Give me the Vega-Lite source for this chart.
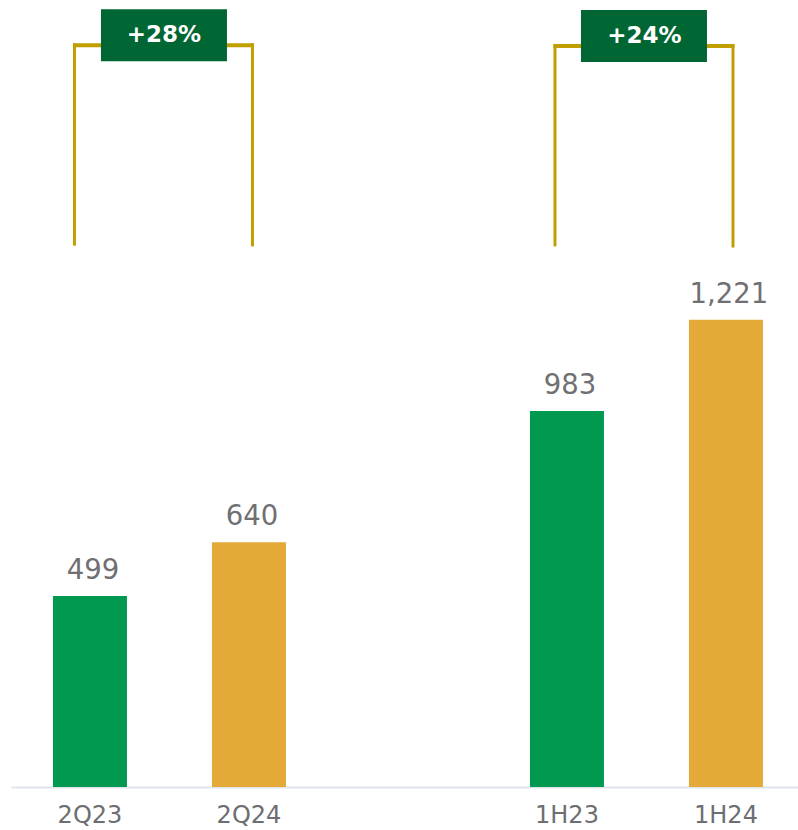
{
  "$schema": "https://vega.github.io/schema/vega-lite/v6.json",
  "width": 787,
  "height": 787,
  "autosize": {"type": "none"},
  "padding": {"left": 11, "top": 0, "right": 0, "bottom": 43},
  "background": "white",
  "config": {"view": {"stroke": null}, "font": "DejaVu Sans"},
  "datasets": {
    "bars": [
      {"period": "2Q23", "year": "2023", "value": 499},
      {"period": "2Q24", "year": "2024", "value": 640},
      {"period": "1H23", "year": "2023", "value": 983},
      {"period": "1H24", "year": "2024", "value": 1221}
    ],
    "brackets": [
      {"from": "2Q23", "to": "2Q24", "label": "+28%"},
      {"from": "1H23", "to": "1H24", "label": "+24%"}
    ]
  },
  "layer": [
    {
      "data": {"name": "bars"},
      "mark": {"type": "bar"},
      "encoding": {
        "x": {
          "field": "period",
          "type": "nominal",
          "sort": null,
          "scale": {"domain": ["2Q23", "2Q24", " ", "1H23", "1H24"], "paddingInner": 0.5346, "paddingOuter": 0.2421, "align": 0.545},
          "axis": {"title": null, "domainColor": "#dfe4eb", "domainWidth": 2, "ticks": false, "labelFontSize": 24, "labelColor": "#6d6e71", "labelPadding": 16, "labelAngle": 0, "labelFont": "DejaVu Sans"}
        },
        "y": {"field": "value", "type": "quantitative", "scale": {"domain": [0, 2057], "nice": false}, "axis": null},
        "color": {"field": "year", "type": "nominal", "scale": {"domain": ["2023", "2024"], "range": ["#00994f", "#e3aa38"]}, "legend": null}
      }
    },
    {
      "data": {"name": "bars"},
      "mark": {"type": "text", "baseline": "alphabetic", "dy": -17, "dx": 3, "fontSize": 27.5, "color": "#706f72", "font": "DejaVu Sans"},
      "encoding": {
        "x": {"field": "period", "type": "nominal"},
        "y": {"field": "value", "type": "quantitative"},
        "text": {"field": "value", "type": "quantitative", "format": ","}
      }
    },
    {
      "data": {"name": "brackets"},
      "transform": [{"filter": "datum.label == '+28%'"}],
      "layer": [
        {"mark": {"type": "rule", "color": "#c29f00", "strokeWidth": 3, "xOffset": -15.5}, "encoding": {"x": {"field": "from", "type": "nominal"}, "y": {"datum": 1415}, "y2": {"datum": 1944}}},
        {"mark": {"type": "rule", "color": "#c29f00", "strokeWidth": 3, "xOffset": 3.5}, "encoding": {"x": {"field": "to", "type": "nominal"}, "y": {"datum": 1413}, "y2": {"datum": 1944}}},
        {"mark": {"type": "rule", "color": "#c29f00", "strokeWidth": 4, "xOffset": -17, "x2Offset": 5}, "encoding": {"x": {"field": "from", "type": "nominal"}, "x2": {"field": "to"}, "y": {"datum": 1939}}},
        {"mark": {"type": "rule", "color": "#006634", "strokeWidth": 52, "xOffset": 11, "x2Offset": -22}, "encoding": {"x": {"field": "from", "type": "nominal"}, "x2": {"field": "to"}, "y": {"datum": 1965}}},
        {"mark": {"type": "text", "color": "white", "fontWeight": "bold", "fontSize": 23, "align": "center", "baseline": "middle", "xOffset": 74, "font": "DejaVu Sans"}, "encoding": {"x": {"field": "from", "type": "nominal"}, "y": {"datum": 1965}, "text": {"field": "label"}}}
      ]
    },
    {
      "data": {"name": "brackets"},
      "transform": [{"filter": "datum.label == '+24%'"}],
      "layer": [
        {"mark": {"type": "rule", "color": "#c29f00", "strokeWidth": 3, "xOffset": -12}, "encoding": {"x": {"field": "from", "type": "nominal"}, "y": {"datum": 1413}, "y2": {"datum": 1942}}},
        {"mark": {"type": "rule", "color": "#c29f00", "strokeWidth": 3, "xOffset": 7}, "encoding": {"x": {"field": "to", "type": "nominal"}, "y": {"datum": 1410}, "y2": {"datum": 1942}}},
        {"mark": {"type": "rule", "color": "#c29f00", "strokeWidth": 4, "xOffset": -13.5, "x2Offset": 8.5}, "encoding": {"x": {"field": "from", "type": "nominal"}, "x2": {"field": "to"}, "y": {"datum": 1937}}},
        {"mark": {"type": "rule", "color": "#006634", "strokeWidth": 52, "xOffset": 14, "x2Offset": -19}, "encoding": {"x": {"field": "from", "type": "nominal"}, "x2": {"field": "to"}, "y": {"datum": 1963}}},
        {"mark": {"type": "text", "color": "white", "fontWeight": "bold", "fontSize": 23, "align": "center", "baseline": "middle", "xOffset": 77.5, "font": "DejaVu Sans"}, "encoding": {"x": {"field": "from", "type": "nominal"}, "y": {"datum": 1963}, "text": {"field": "label"}}}
      ]
    }
  ]
}
